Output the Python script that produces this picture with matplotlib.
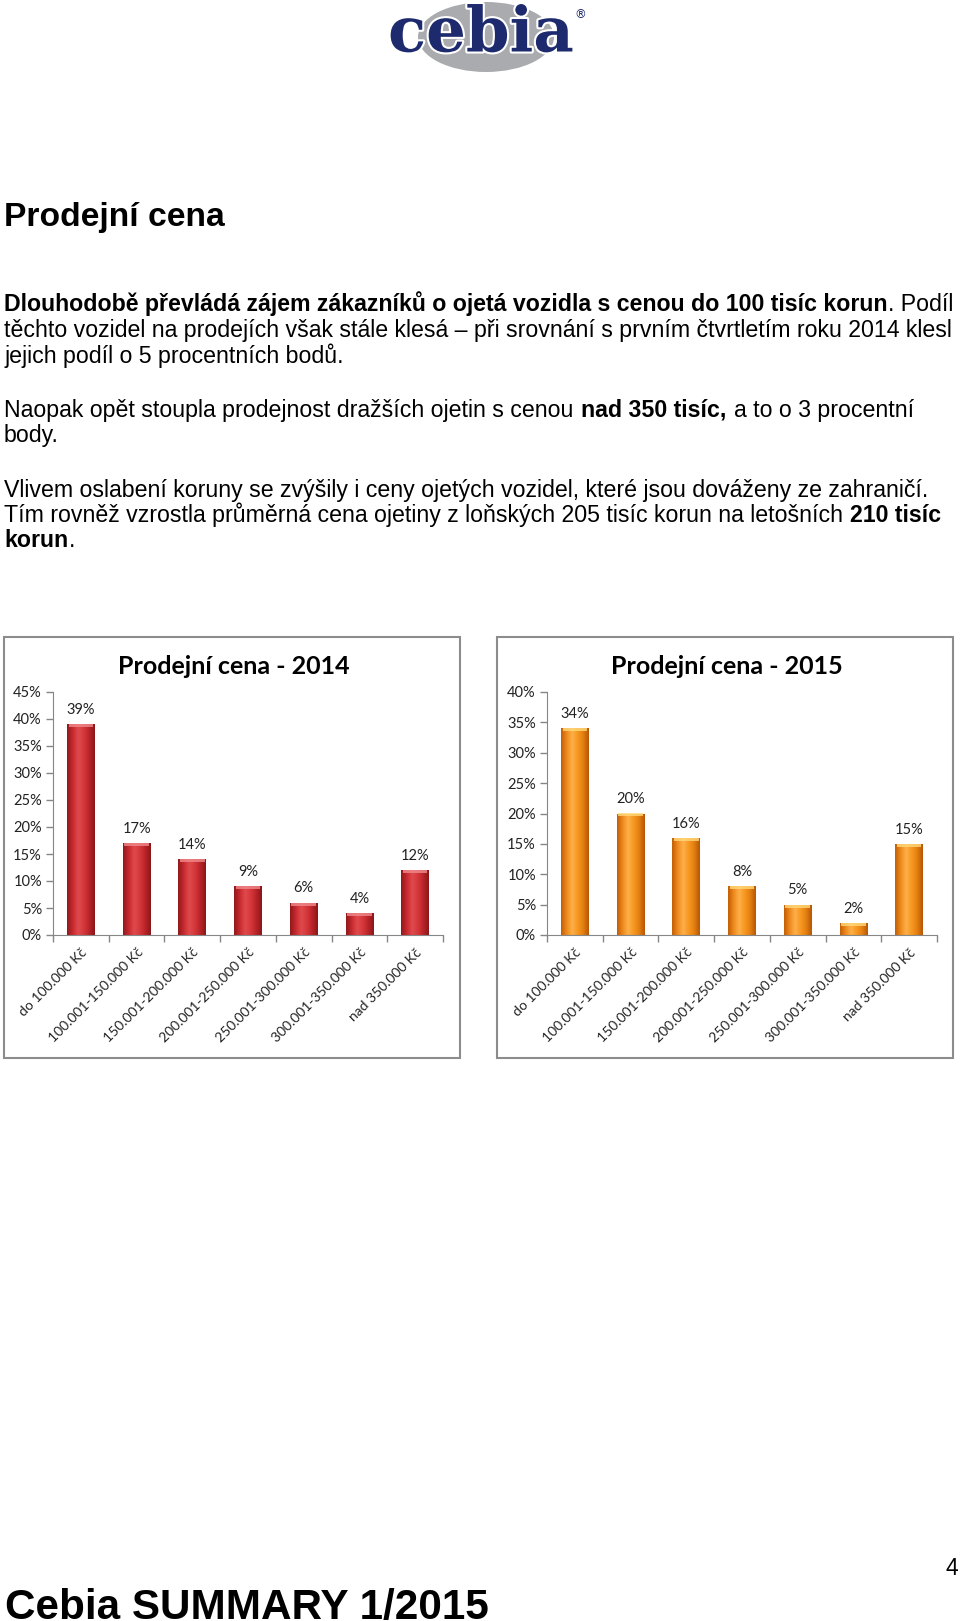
import matplotlib.pyplot as plt
import numpy as np
from matplotlib.patches import Rectangle, Ellipse
from matplotlib.colors import LinearSegmentedColormap
import matplotlib.patheffects as pe

W, H = 960, 1621

# data
categories = ["do 100.000 Kč", "100.001-150.000 Kč", "150.001-200.000 Kč",
              "200.001-250.000 Kč", "250.001-300.000 Kč", "300.001-350.000 Kč",
              "nad 350.000 Kč"]
values_2014 = [39, 17, 14, 9, 6, 4, 12]
values_2015 = [34, 20, 16, 8, 5, 2, 15]
yticks_2014 = [0, 5, 10, 15, 20, 25, 30, 35, 40, 45]
yticks_2015 = [0, 5, 10, 15, 20, 25, 30, 35, 40]

fig = plt.figure(figsize=(W / 100, H / 100), dpi=100)
fig.patch.set_facecolor("white")


def fx(x):
    return x / W


def fy(y):
    return 1 - y / H


renderer = fig.canvas.get_renderer()
BODY = "Liberation Sans"


def text_w(t, size, bold):
    tt = fig.text(0, 0, t, fontsize=size, family=BODY,
                  fontweight="bold" if bold else "normal")
    w = tt.get_window_extent(renderer).width
    tt.remove()
    return w


def draw_line(x, y, runs, size):
    # runs: list of (text, bold) drawn one after another
    sp = text_w("a a", size, False) - text_w("aa", size, False)
    for t, bold in runs:
        lead = len(t) - len(t.lstrip(" "))
        x += lead * sp
        s = t.strip(" ")
        tt = fig.text(fx(x), fy(y), s, fontsize=size, family=BODY, va="baseline",
                      fontweight="bold" if bold else "normal", color="black")
        x += tt.get_window_extent(renderer).width + 1
        trail = len(t) - len(t.rstrip(" "))
        x += trail * sp


# logo
fig.patches.append(Ellipse((fx(486), fy(37)), fx(136), 70 / H, transform=fig.transFigure,
                           facecolor="#a9abae", edgecolor="none"))
fig.text(fx(481), fy(34), "cebia", family="DejaVu Serif", fontweight="bold",
         fontsize=45, color="#1e2a6e", ha="center", va="center",
         path_effects=[pe.withStroke(linewidth=3, foreground="white")])
fig.text(fx(580), fy(15), "®", family="DejaVu Sans", fontsize=8.5, color="#1e2a6e",
         ha="center", va="center")

# heading and paragraphs
fs_body = 16.7
fig.text(fx(4), fy(226), "Prodejní cena", family=BODY, fontweight="bold",
         fontsize=24.2, va="baseline")

lines = [
    (311, [("Dlouhodobě převládá zájem zákazníků o ojetá vozidla s cenou do 100 tisíc korun", True),
           (". Podíl", False)]),
    (337, [("těchto vozidel na prodejích však stále klesá – při srovnání s prvním čtvrtletím roku 2014 klesl", False)]),
    (363, [("jejich podíl o 5 procentních bodů.", False)]),
    (417, [("Naopak opět stoupla prodejnost dražších ojetin s cenou ", False),
           ("nad 350 tisíc,", True), (" a to o 3 procentní", False)]),
    (442, [("body.", False)]),
    (497, [("Vlivem oslabení koruny se zvýšily i ceny ojetých vozidel, které jsou dováženy ze zahraničí.", False)]),
    (522, [("Tím rovněž vzrostla průměrná cena ojetiny z loňských 205 tisíc korun na letošních ", False),
           ("210 tisíc", True)]),
    (547, [("korun", True), (".", False)]),
]
for y, runs in lines:
    draw_line(4, y, runs, fs_body)

# footer
fig.text(fx(5), fy(1619), "Cebia SUMMARY 1/2015", family=BODY, fontweight="bold",
         fontsize=30.4, va="baseline")
fig.text(fx(952), fy(1575), "4", family=BODY, fontsize=16.5, ha="center", va="baseline")

red_cmap = LinearSegmentedColormap.from_list(
    "r", ["#8f1a1d", "#c8292e", "#e04a4d", "#d6383c", "#b92428", "#8a1719"])
org_cmap = LinearSegmentedColormap.from_list(
    "o", ["#c25f08", "#ef8a1c", "#fdb04a", "#f7971f", "#e27f12", "#b85606"])


def chart(box, axpos, vals, yt, title, cmap, topcol):
    bx0, by0, bx1, by1 = box
    fig.patches.append(Rectangle((fx(bx0), fy(by1)), fx(bx1 - bx0), (by1 - by0) / H,
                                 transform=fig.transFigure, facecolor="white",
                                 edgecolor="#8c8c8c", lw=1.5, zorder=-1))
    x0, y0, x1, y1 = axpos
    ax = fig.add_axes([fx(x0), fy(y1), fx(x1 - x0), (y1 - y0) / H])
    ax.set_facecolor("none")
    xs = np.arange(len(vals))
    bars = ax.bar(xs, vals, width=0.5, color="none", edgecolor="none", zorder=2)
    grad = np.linspace(0, 1, 64).reshape(1, -1)
    ymax = yt[-1]
    for b in bars:
        bxl, bw, bh = b.get_x(), b.get_width(), b.get_height()
        im = ax.imshow(grad, cmap=cmap, aspect="auto", extent=[bxl, bxl + bw, 0, bh],
                       zorder=2, interpolation="bicubic")
        im.set_clip_path(b)
        bev = ymax * 0.012
        ax.add_patch(Rectangle((bxl + bw * 0.06, bh - bev), bw * 0.88, bev,
                               facecolor=topcol, edgecolor="none", alpha=0.8, zorder=3))
        ax.text(b.get_x() + bw / 2, bh + ymax * 0.03, f"{int(b.get_height())}%",
                ha="center", va="bottom", family="Lato", fontsize=10.5, color="#222222")
    ax.set_xlim(-0.5, len(vals) - 0.5)
    ax.set_ylim(0, ymax)
    ax.set_yticks(yt)
    ax.set_yticklabels([f"{v}%" for v in yt], family="Lato", fontsize=10.5, color="#222222")
    ax.set_xticks(xs)
    ax.set_xticklabels(categories, rotation=45, ha="right", va="top",
                       rotation_mode="anchor", family="Lato", fontsize=10, color="#222222")
    ax.set_xticks(np.arange(len(vals) + 1) - 0.5, minor=True)
    ax.tick_params(axis="x", which="major", length=0, pad=8)
    ax.tick_params(axis="x", which="minor", length=5, color="#868686", width=1)
    ax.tick_params(axis="y", length=5, color="#868686", width=1, pad=3)
    for s in ["top", "right"]:
        ax.spines[s].set_visible(False)
    for s in ["left", "bottom"]:
        ax.spines[s].set_color("#868686")
    fig.text(fx((bx0 + bx1) / 2 + 2), fy(667), title, family="Lato", fontweight="bold",
             fontsize=18, ha="center", va="center")


chart((4, 637, 460, 1058), (53, 692, 443, 935), values_2014, yticks_2014,
      "Prodejní cena - 2014", red_cmap, "#f08a8c")
chart((497, 637, 953, 1058), (547, 692, 937, 935), values_2015, yticks_2015,
      "Prodejní cena - 2015", org_cmap, "#ffd97a")

fig.savefig("out.png", dpi=100, facecolor="white")
